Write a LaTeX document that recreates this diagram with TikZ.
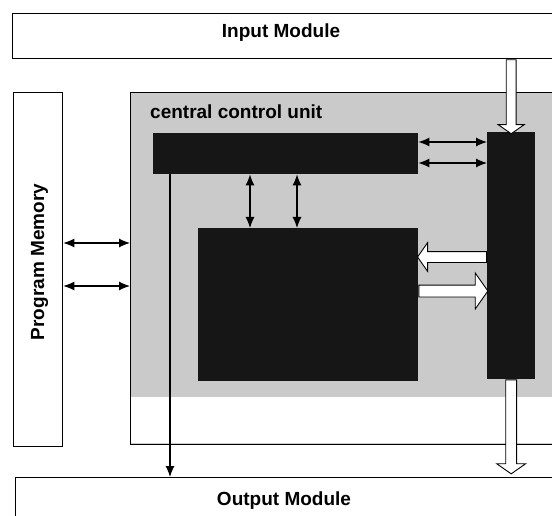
\documentclass[tikz,border=0pt]{standalone}
\usepackage{fontspec}
\setmainfont{Liberation Sans}
\usetikzlibrary{
  arrows.meta,
  shapes.arrows,
  calc
}
\definecolor{ccugray}{RGB}{202,202,202}
\definecolor{blkfill}{RGB}{22,22,22}
\tikzset{
  % Kasten
  modbox/.style   = {draw=black, line width=1.3pt, fill=white, inner sep=0pt, anchor=north west},
  ccubox/.style   = {draw=black, line width=1.3pt, fill=ccugray, inner sep=0pt, anchor=north west},
  blkbox/.style   = {fill=blkfill, inner sep=0pt, anchor=north west},
  % Beschriftung
  lab/.style      = {font=\fontsize{19}{22}\selectfont\bfseries, inner sep=0pt},
  % Pfeile
  dblarrow/.style = {{Latex[length=11pt,width=9pt]}-{Latex[length=11pt,width=9pt]}, line width=1.1pt},
  sglarrow/.style = {-{Latex[length=11pt,width=9pt]}, line width=1.1pt},
  hollow/.style   = {single arrow, draw=black, fill=white, line width=0.9pt, inner sep=0pt,
                     single arrow tip angle=110},
}

\begin{document}
\begin{tikzpicture}[x=1pt, y=-1pt]
  \clip (0,0) rectangle (552,516);
  \fill[white] (0,0) rectangle (552,516);

  % Module
  \node[modbox, minimum width=560pt, minimum height=45pt] (inmod) at (12,13) {};
  \node[lab, anchor=base] (inlab) at (281,38) {Input Module};
  \node[modbox, minimum width=560pt, minimum height=60pt] (outmod) at (15,477) {};
  \node[lab, anchor=base] (outlab) at (284,505) {Output Module};
  \node[modbox, minimum width=49pt, minimum height=354pt] (progmem) at (13,92) {};
  \node[lab, anchor=base, rotate=90] (pmlab) at (44,262) {Program Memory};

  % Steuerwerk
  \node[ccubox, minimum width=430pt, minimum height=352pt] (ccu) at (130,92) {};
  \fill[white] (131,397) rectangle (552,443);
  \node[lab, anchor=base west] (cculab) at (150,119) {central control unit};

  % schwarze Bloecke
  \node[blkbox, minimum width=265pt, minimum height=41pt] (reg) at (153,133) {};
  \node[blkbox, minimum width=220pt, minimum height=153pt] (alu) at (198,228) {};
  \node[blkbox, minimum width=48pt, minimum height=247pt] (bus) at (487,132) {};

  % Hilfspunkte
  \coordinate (pmA) at (0,243);
  \coordinate (pmB) at (0,286);
  \coordinate (vA) at (250,0);
  \coordinate (vB) at (297,0);
  \coordinate (hA) at (0,142);
  \coordinate (hB) at (0,163);
  \coordinate (hL) at (0,257);
  \coordinate (hR) at (0,291);
  \coordinate (tl) at (170,0);

  % Verbindungen
  \draw[dblarrow] (progmem.east |- pmA) -- (ccu.west |- pmA);
  \draw[dblarrow] (progmem.east |- pmB) -- (ccu.west |- pmB);
  \draw[dblarrow] (reg.south -| vA) -- (alu.north -| vA);
  \draw[dblarrow] (reg.south -| vB) -- (alu.north -| vB);
  \draw[dblarrow] (reg.east |- hA) -- (bus.west |- hA);
  \draw[dblarrow] (reg.east |- hB) -- (bus.west |- hB);
  \draw[sglarrow] (reg.south -| tl) -- (outmod.north -| tl);

  % Hohlpfeile
  \node[hollow, shape border rotate=270, minimum height=74pt, inner xsep=4.5pt,
        single arrow head extend=8pt, anchor=tail] (inarr) at (bus.north |- inmod.south) {};
  \node[hollow, shape border rotate=270, minimum height=94pt, inner xsep=5pt,
        single arrow head extend=9pt, anchor=tail] (outarr) at (bus.south) {};
  \node[hollow, shape border rotate=180, minimum height=69pt, inner ysep=5pt,
        single arrow head extend=9pt, anchor=tail] (leftarr) at (bus.west |- hL) {};
  \node[hollow, shape border rotate=0, minimum height=69pt, inner ysep=5.5pt,
        single arrow head extend=12pt, anchor=tail] (rightarr) at (alu.east |- hR) {};
\end{tikzpicture}
\end{document}
